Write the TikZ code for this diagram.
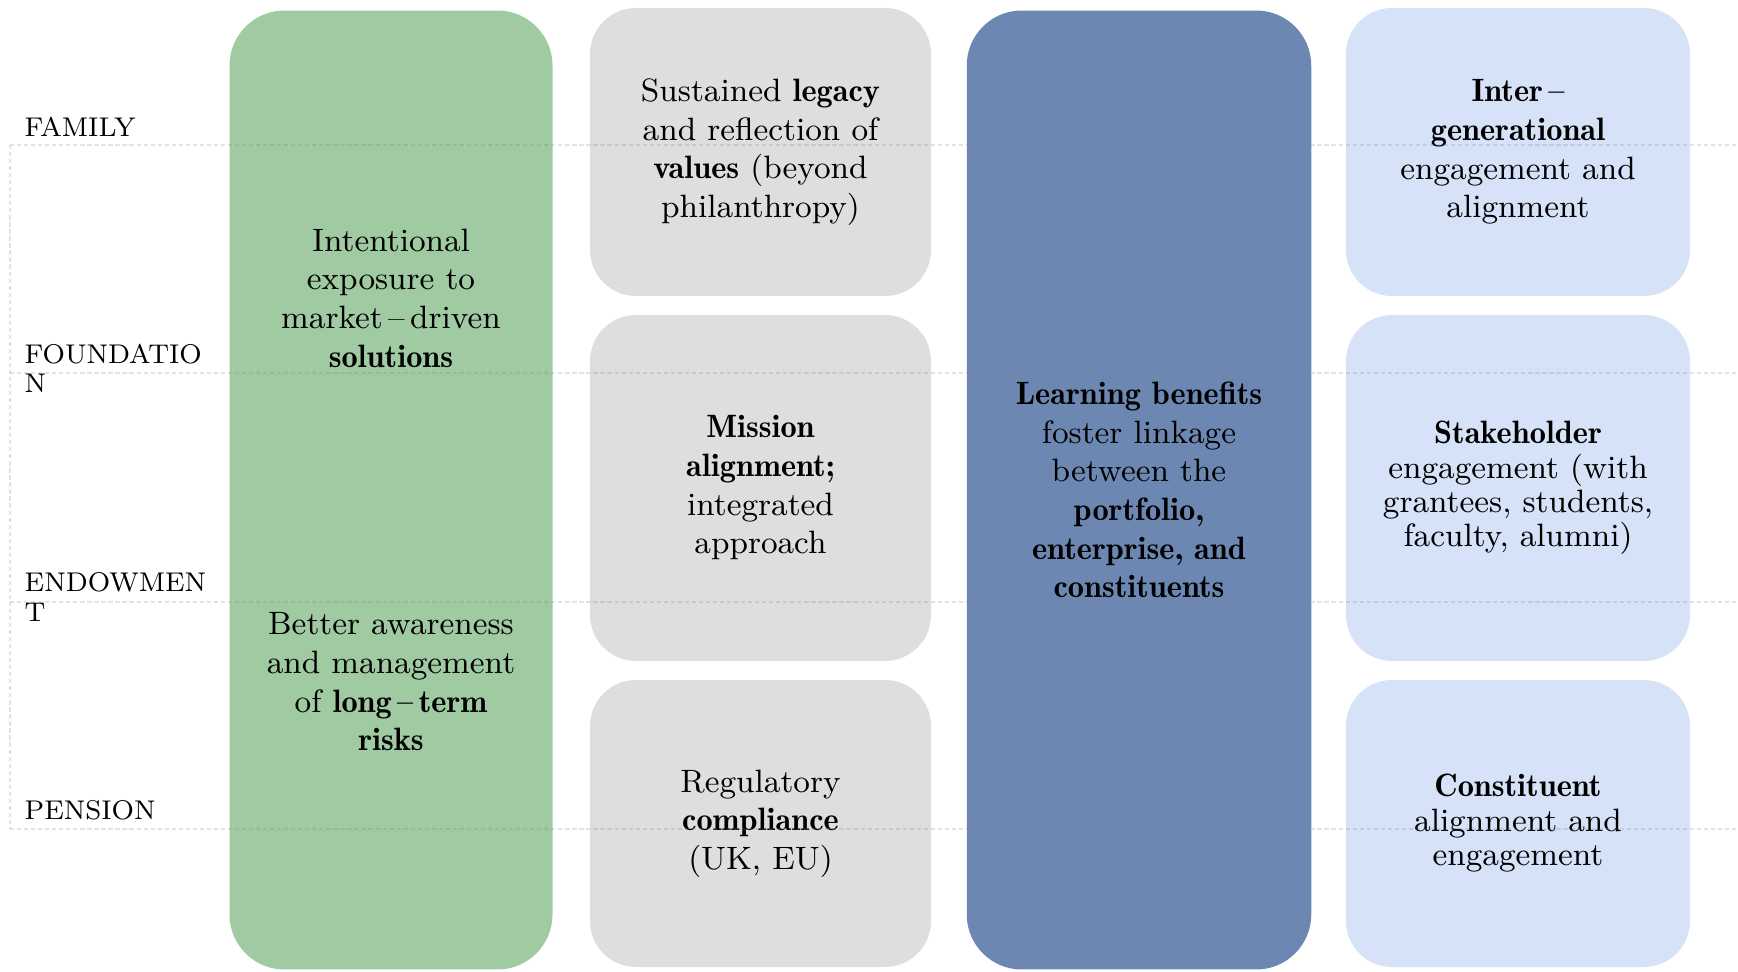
\documentclass[tikz,border=0pt]{standalone}
\usetikzlibrary{positioning}
\definecolor{invgreen}{RGB}{160,202,162}
\definecolor{valgray}{RGB}{222,222,224}
\definecolor{learnblue}{RGB}{108,136,178}
\definecolor{engblue}{RGB}{213,226,247}
\newcommand{\keyword}[1]{{\fontseries{b}\selectfont #1}}
\tikzset{
  tallbox/.style={rounded corners=0.55cm, minimum height=9.59cm, inner sep=0pt},
  cellbox/.style={rounded corners=0.46cm, inner sep=0pt, align=center,
    font=\fontsize{9.2}{11}\selectfont},
  bodytext/.style={align=center, inner sep=0pt, font=\fontsize{9.2}{11}\selectfont},
  sector/.style={anchor=base west, align=left, inner sep=0pt,
    font=\fontsize{7.7}{8.3}\selectfont},
  gridline/.style={gray, opacity=0.22, line width=0.3pt, dash pattern=on 1.2pt off 0.8pt}
}

\begin{document}
\begin{tikzpicture}[x=0.1mm,y=-0.1mm]
\useasboundingbox (0,0) rectangle (1738,972);
% columns
\node[tallbox, fill=invgreen, minimum width=3.23cm] (inv) at (391,490) {};
\node[bodytext] (exposure) at (391,298) {Intentional\\exposure to\\market\,--\,driven\\\keyword{solutions}};
\node[bodytext] (risks) at (391,682) {Better awareness\\and management\\of \keyword{long\,--\,term}\\\keyword{risks}};
\node[cellbox, fill=valgray, minimum width=3.41cm, minimum height=2.88cm] (legacy) at (760.5,152) {Sustained \keyword{legacy}\\and reflection of\\\keyword{values} (beyond\\philanthropy)};
\node[cellbox, fill=valgray, minimum width=3.41cm, minimum height=3.46cm] (mission) at (760.5,488) {\keyword{Mission}\\\keyword{alignment;}\\integrated\\approach};
\node[cellbox, fill=valgray, minimum width=3.41cm, minimum height=2.87cm] (compliance) at (760.5,823.5) {Regulatory\\\keyword{compliance}\\(UK, EU)};
\node[tallbox, fill=learnblue, minimum width=3.445cm] (learning) at (1139,490) {};
\node[bodytext] (linkage) at (1139,490) {\keyword{Learning benefits}\\foster linkage\\between the\\\keyword{portfolio,}\\\keyword{enterprise, and}\\\keyword{constituents}};
\node[cellbox, fill=engblue, minimum width=3.44cm, minimum height=2.88cm] (intergen) at (1518,152) {\keyword{Inter\,--}\\\keyword{generational}\\engagement and\\alignment};
\node[cellbox, fill=engblue, minimum width=3.44cm, minimum height=3.46cm,
  font=\fontsize{9.2}{9.8}\selectfont] (stakeholder) at (1518,488) {\keyword{Stakeholder}\\engagement (with\\grantees, students,\\faculty, alumni)};
\node[cellbox, fill=engblue, minimum width=3.44cm, minimum height=2.87cm,
  font=\fontsize{9.2}{9.8}\selectfont] (constituent) at (1518,823.5) {\keyword{Constituent}\\alignment and\\engagement};
% rows
\draw[gridline] (10,145) -- (1738,145);
\draw[gridline] (10,373) -- (1738,373);
\draw[gridline] (10,602) -- (1738,602);
\draw[gridline] (10,829) -- (1738,829);
\draw[gridline] (10,145) -- (10,829);
\node[sector] (family) at (24,137) {FAMILY};
\node[sector] (foundation) at (24,393) {FOUNDATIO\\N};
\node[sector] (endowment) at (24,621) {ENDOWMEN\\T};
\node[sector] (pension) at (24,819) {PENSION};
\end{tikzpicture}
\end{document}
